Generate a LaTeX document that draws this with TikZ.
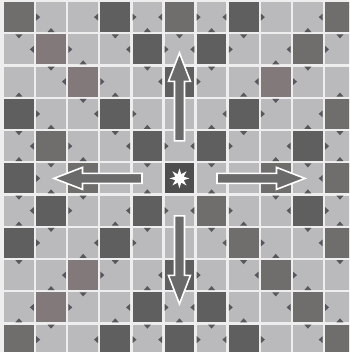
\documentclass[tikz,border=0pt]{standalone}
\usetikzlibrary{shapes.geometric}
\definecolor{gapcol}{RGB}{238,238,238}
\definecolor{lightt}{RGB}{186,186,188}
\definecolor{darkA}{RGB}{96,95,95}
\definecolor{darkB}{RGB}{112,109,109}
\definecolor{darkC}{RGB}{130,122,122}
\definecolor{starcell}{RGB}{78,78,78}
\definecolor{arrowfill}{RGB}{106,106,106}
\definecolor{tricol}{RGB}{88,88,92}
\begin{document}
\begin{tikzpicture}[x=1pt,y=-1pt,
  tri/.style={fill=tricol},
  arr/.style={fill=arrowfill, draw=white, line width=1.6pt, line join=miter}]
\useasboundingbox (0,0) rectangle (349,352);
\clip (0,0) rectangle (349,352);
\fill[gapcol] (0,0) rectangle (349,352);
% light tiles
\foreach \r in {0,...,10}{
  \foreach \c in {0,...,10}{
    \fill[lightt] ({2.9+32.1*\c+1.2},{1+32.25*\r+1.2}) rectangle ({2.9+32.1*(\c+1)-1.2},{1+32.25*(\r+1)-1.2});
  }}
% dark tiles with their small triangles
\foreach \r/\c/\s in {0/0/B, 0/3/A, 0/5/B, 0/7/A, 0/10/B,
  1/1/C, 1/4/A, 1/6/A, 1/9/B,
  2/2/C, 2/5/A, 2/8/C,
  3/0/A, 3/3/A, 3/7/A, 3/10/B,
  4/1/B, 4/4/A, 4/6/A, 4/9/A,
  5/0/A, 5/2/B, 5/8/B, 5/10/B,
  6/1/A, 6/4/A, 6/6/B, 6/9/A,
  7/0/A, 7/3/A, 7/7/B, 7/10/B,
  8/2/C, 8/5/A, 8/8/B,
  9/1/C, 9/4/A, 9/6/A, 9/9/B,
  10/0/B, 10/3/A, 10/5/A, 10/7/A, 10/10/B}{
  \pgfmathsetmacro\xl{2.9+32.1*\c+1.2}
  \pgfmathsetmacro\xr{2.9+32.1*(\c+1)-1.2}
  \pgfmathsetmacro\yt{1+32.25*\r+1.2}
  \pgfmathsetmacro\yb{1+32.25*(\r+1)-1.2}
  \pgfmathsetmacro\xm{2.9+32.1*(\c+0.5)}
  \pgfmathsetmacro\ym{1+32.25*(\r+0.5)}
  \fill[fill=dark\s] (\xl,\yt) rectangle (\xr,\yb);
  \ifnum\r>0 \fill[tri] (\xm-3.5,\yt-2.4) -- (\xm+3.5,\yt-2.4) -- (\xm,\yt-6.4) -- cycle; \fi
  \ifnum\r<10 \fill[tri] (\xm-3.5,\yb+2.4) -- (\xm+3.5,\yb+2.4) -- (\xm,\yb+6.4) -- cycle; \fi
  \ifnum\c>0 \fill[tri] (\xl-2.4,\ym-3.5) -- (\xl-2.4,\ym+3.5) -- (\xl-6.4,\ym) -- cycle; \fi
  \ifnum\c<10 \fill[tri] (\xr+2.4,\ym-3.5) -- (\xr+2.4,\ym+3.5) -- (\xr+6.4,\ym) -- cycle; \fi
}
% centre cell
\fill[starcell] ({2.9+32.1*5+1.2},{1+32.25*5+1.2}) rectangle ({2.9+32.1*6-1.2},{1+32.25*6-1.2});
\node[star, star points=8, star point ratio=2.2, fill=white, inner sep=0pt, minimum size=20pt] (star) at (179.45,178.4) {};
% arrows
\foreach \a in {0,90,180,270}{
  \draw[arr, shift={(179.45,178.4)}, rotate=\a]
    (37.5,-5) -- (97,-5) -- (97,-11) -- (125.5,0) -- (97,11) -- (97,5) -- (37.5,5) -- cycle;
}
\end{tikzpicture}
\end{document}
